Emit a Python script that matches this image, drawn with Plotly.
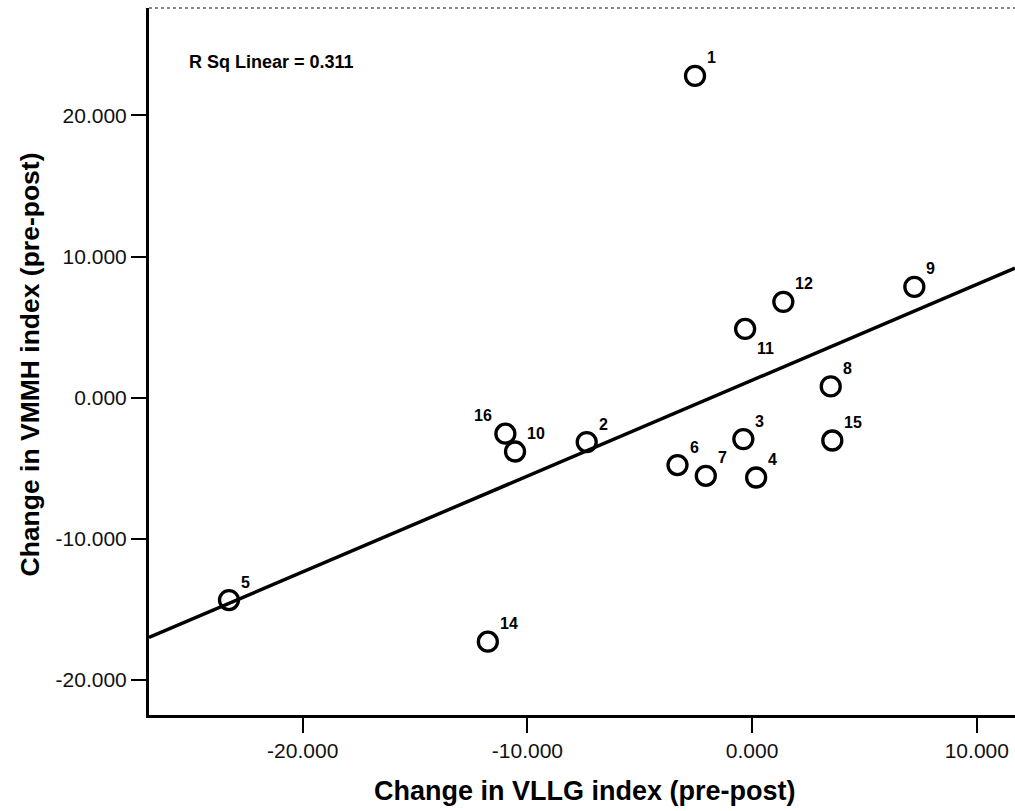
import numpy as np
import plotly.graph_objects as go

# ---- data ----
case_labels = ["1", "2", "3", "4", "5", "6", "7", "8", "9", "10", "11", "12", "14", "15", "16"]
vllg_change = [-2.54, -7.36, -0.39, 0.18, -23.28, -3.32, -2.06, 3.50, 7.22, -10.55, -0.31, 1.39, -11.76, 3.57, -10.98]
vmmh_change = [22.79, -3.14, -2.93, -5.65, -14.33, -4.77, -5.53, 0.80, 7.85, -3.81, 4.87, 6.79, -17.28, -3.03, -2.55]

x_tick_vals = [-20, -10, 0, 10]
x_tick_text = ["-20.000", "-10.000", "0.000", "10.000"]
y_tick_vals = [-20, -10, 0, 10, 20]
y_tick_text = ["-20.000", "-10.000", "0.000", "10.000", "20.000"]

x_title = "Change in VLLG index (pre-post)"
y_title = "Change in VMMH index (pre-post)"

# ---- layout / style settings ----
x_range = [-26.84, 11.70]
y_range = [-22.47, 27.60]
W, H = 1015, 811
# plot area in page pixels (body margin removed by post_script)
P_L, P_R, P_T, P_B = 149, 1015, 8, 715
M_L, M_R, M_T, M_B = P_L, W - P_R, P_T, H - P_B
FONT = "Liberation Sans, Arial, sans-serif"


def px_to_paper(px, py):
    return (px - P_L) / (P_R - P_L), (P_B - py) / (P_B - P_T)


# label placement exceptions (default: upper-right)
label_left = {"16"}
label_below = {"11"}

x = np.array(vllg_change)
y = np.array(vmmh_change)
slope, intercept = np.polyfit(x, y, 1)
r2 = np.corrcoef(x, y)[0, 1] ** 2

fig = go.Figure()

line_x = np.array(x_range)
fig.add_trace(go.Scatter(
    x=line_x, y=slope * line_x + intercept, mode="lines",
    line=dict(color="black", width=3.5), hoverinfo="skip", showlegend=False,
))

fig.add_trace(go.Scatter(
    x=vllg_change, y=vmmh_change, mode="markers",
    marker=dict(symbol="circle-open", size=19, color="black", line=dict(width=3.3, color="black")),
    showlegend=False,
))

annotations = []
for lab, xi, yi in zip(case_labels, vllg_change, vmmh_change):
    if lab in label_left:
        xanchor, xshift = "right", -11
    else:
        xanchor, xshift = "left", 10
    yshift = -20 if lab in label_below else 18
    annotations.append(dict(
        x=xi, y=yi, xref="x", yref="y", text=f"<b>{lab}</b>", showarrow=False,
        xanchor=xanchor, yanchor="middle", xshift=xshift, yshift=yshift,
        font=dict(family=FONT, size=16, color="black"),
    ))

rx, ry = px_to_paper(187, 62)
annotations.append(dict(
    x=rx, y=ry, xref="paper", yref="paper", text=f"<b>R Sq Linear = {r2:.3f}</b>",
    showarrow=False, xanchor="left", yanchor="middle",
    font=dict(family=FONT, size=18, color="black"),
))

_, ty = px_to_paper(0, 791)
annotations.append(dict(
    x=(584.5 - P_L) / (P_R - P_L), y=ty, xref="paper", yref="paper",
    text=f"<b>{x_title}</b>", showarrow=False, xanchor="center", yanchor="middle",
    font=dict(family=FONT, size=27, color="black"),
))
yx, yy = px_to_paper(29, 364.5)
annotations.append(dict(
    x=yx, y=yy, xref="paper", yref="paper",
    text=f"<b>{y_title}</b>", textangle=-90,
    showarrow=False, xanchor="center", yanchor="middle",
    font=dict(family=FONT, size=26.5, color="black"),
))

fig.update_layout(
    width=W, height=H,
    margin=dict(l=M_L, r=M_R, t=M_T, b=M_B, pad=0),
    paper_bgcolor="white", plot_bgcolor="white",
    annotations=annotations,
    shapes=[dict(type="line", xref="paper", yref="paper", x0=0, x1=1, y0=1, y1=1,
                 line=dict(color="#888888", width=2, dash="dot"))],
    xaxis=dict(
        range=x_range, showgrid=False, zeroline=False,
        showline=True, linecolor="black", linewidth=3,
        ticks="outside", ticklen=15, tickwidth=2, tickcolor="black",
        tickvals=x_tick_vals, ticktext=x_tick_text,
        tickfont=dict(family=FONT, size=21, color="#111111"),
    ),
    yaxis=dict(
        range=y_range, showgrid=False, zeroline=False,
        showline=True, linecolor="black", linewidth=3,
        ticks="outside", ticklen=15, tickwidth=2, tickcolor="black",
        tickvals=y_tick_vals, ticktext=y_tick_text,
        tickfont=dict(family=FONT, size=21, color="#111111"),
    ),
)

fig.write_html(
    "out.html",
    config={"displayModeBar": False},
    post_script="document.body.style.margin='0';document.body.style.overflow='hidden';",
)
